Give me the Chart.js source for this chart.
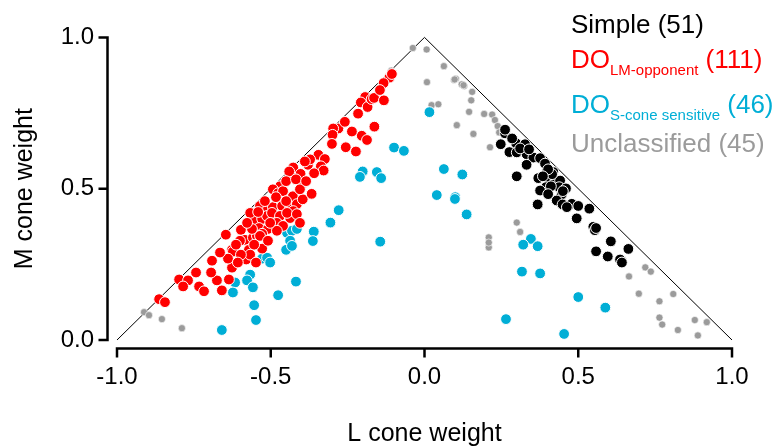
<!DOCTYPE html>
<html><head><meta charset="utf-8">
<script src="https://cdn.jsdelivr.net/npm/chart.js@4/dist/chart.umd.min.js"></script>
<style>html,body{margin:0;padding:0;background:#fff;}</style>
</head><body>
<canvas id="c" width="776" height="447"></canvas>
<script>
// ---- data (L cone weight, M cone weight) ----
const simpleL = [0.262,0.248,0.298,0.327,0.276,0.300,0.332,0.354,0.376,0.392,0.332,0.397,0.419,0.300,0.370,0.408,0.424,0.441,0.395,0.376,0.438,0.460,0.446,0.430,0.449,0.368,0.479,0.500,0.536,0.495,0.549,0.554,0.606,0.663,0.558,0.596,0.641,0.636,0.285,0.311,0.340,0.415,0.402,0.385,0.411,0.450,0.402,0.262,0.558,0.642,0.463];
const simpleM = [0.683,0.647,0.650,0.647,0.621,0.620,0.614,0.603,0.601,0.583,0.579,0.555,0.555,0.541,0.535,0.528,0.519,0.527,0.505,0.494,0.505,0.501,0.481,0.461,0.448,0.448,0.450,0.443,0.434,0.402,0.374,0.363,0.326,0.301,0.293,0.276,0.262,0.266,0.666,0.633,0.630,0.548,0.564,0.541,0.508,0.492,0.482,0.695,0.370,0.256,0.439];

const lmL = [-0.470,-0.493,-0.476,-0.460,-0.428,-0.535,-0.509,-0.493,-0.463,-0.437,-0.415,-0.554,-0.528,-0.512,-0.496,-0.470,-0.437,-0.480,-0.460,-0.538,-0.509,-0.480,-0.528,-0.646,-0.597,-0.584,-0.558,-0.545,-0.535,-0.626,-0.623,-0.571,-0.528,-0.580,-0.691,-0.626,-0.798,-0.769,-0.785,-0.733,-0.717,-0.675,-0.636,-0.863,-0.844,
 -0.114,-0.133,-0.193,-0.207,-0.185,-0.172,-0.164,-0.132,-0.163,-0.280,-0.297,-0.299,-0.301,-0.204,-0.187,-0.256,-0.345,-0.324,-0.337,-0.328,-0.379,-0.427,-0.432,-0.403,-0.398,-0.440,
 -0.396,-0.367,-0.427,
 -0.450,-0.418,-0.483,-0.450,-0.519,-0.567,-0.541,-0.447,-0.415,-0.405,-0.502,-0.561,-0.577,-0.600,-0.613,-0.554,-0.509,-0.567,-0.597,-0.548,-0.639,-0.665,-0.607,-0.694,-0.743,-0.659,-0.405,-0.385,-0.359,-0.372,-0.389,-0.259,-0.236,-0.216,-0.145,-0.106,-0.223];
const lmM = [0.508,0.498,0.485,0.492,0.475,0.443,0.433,0.439,0.443,0.436,0.449,0.393,0.400,0.410,0.420,0.410,0.403,0.387,0.377,0.370,0.367,0.361,0.351,0.348,0.364,0.331,0.338,0.344,0.344,0.298,0.292,0.298,0.302,0.266,0.262,0.239,0.200,0.197,0.177,0.177,0.161,0.197,0.200,0.135,0.125,
 0.867,0.849,0.803,0.785,0.770,0.796,0.800,0.792,0.705,0.699,0.699,0.678,0.648,0.675,0.661,0.637,0.612,0.598,0.574,0.560,0.579,0.570,0.539,0.549,0.516,0.557,
 0.465,0.483,0.426,
 0.525,0.531,0.472,0.459,0.459,0.420,0.423,0.420,0.416,0.387,0.387,0.367,0.387,0.328,0.315,0.315,0.328,0.282,0.282,0.256,0.269,0.289,0.256,0.223,0.223,0.164,0.498,0.525,0.551,0.597,0.590,0.721,0.689,0.748,0.826,0.879,0.623];

const sL = [-0.447,-0.431,-0.415,-0.437,-0.450,-0.528,-0.512,-0.502,-0.567,-0.577,-0.616,-0.558,-0.623,-0.476,-0.418,-0.554,-0.548,-0.659,0.016,-0.099,-0.067,-0.201,-0.210,-0.155,-0.141,0.063,0.123,0.040,0.100,0.137,-0.279,-0.306,-0.360,-0.363,-0.144,0.346,0.321,0.368,0.500,0.588,0.454,0.317,0.376,0.265,-0.431,0.099];
const sM = [0.354,0.361,0.367,0.328,0.298,0.269,0.272,0.256,0.216,0.197,0.190,0.174,0.157,0.148,0.193,0.115,0.066,0.033,0.753,0.636,0.625,0.557,0.539,0.555,0.535,0.565,0.547,0.479,0.472,0.415,0.429,0.388,0.358,0.327,0.325,0.334,0.315,0.310,0.142,0.107,0.020,0.226,0.220,0.069,0.311,0.466];

const unL = [-0.912,-0.896,-0.854,-0.789,-0.038,0.007,-0.108,0.063,0.008,0.102,0.096,0.121,0.129,0.155,0.152,0.145,0.023,0.045,0.105,0.159,0.194,0.220,0.229,0.238,0.243,0.213,0.300,0.311,0.209,0.209,0.718,0.736,0.665,0.697,0.809,0.764,0.764,0.773,0.824,0.879,0.918,0.889,0.098,0.127,0.209];
const unM = [0.092,0.082,0.069,0.039,0.965,0.960,0.890,0.905,0.852,0.863,0.859,0.845,0.839,0.820,0.792,0.754,0.776,0.779,0.710,0.681,0.747,0.745,0.727,0.707,0.686,0.637,0.388,0.357,0.339,0.306,0.240,0.226,0.210,0.153,0.152,0.128,0.074,0.051,0.033,0.066,0.059,0.015,0.861,0.842,0.322];

const triL = [-1, 0, 1];
const triM = [0, 1, 0];

const tickValues = [0, 0.5, 1];
const xTickValues = [-1, -0.5, 0, 0.5, 1];

const legendNames = ['Simple', 'DO', 'DO', 'Unclassified'];
const legendSubs = ['', 'LM-opponent', 'S-cone sensitive', ''];
const legendCounts = [51, 111, 46, 45];
const legendColors = ['#000000', '#ff0000', '#00aed6', '#9b9b9b'];

const zip = (a, b) => a.map((v, i) => ({x: v, y: b[i]}));

const FONT = "'Liberation Sans', Arial, Helvetica, sans-serif";

const axesPlugin = {
  id: 'offsetAxes',
  afterDraw(chart) {
    const {ctx, scales: {x, y}} = chart;
    ctx.save();
    ctx.strokeStyle = '#000';
    ctx.lineWidth = 2.5;
    ctx.lineCap = 'butt';
    const ax = x.getPixelForValue(-1) - 9.5;
    const y0 = y.getPixelForValue(0), y1 = y.getPixelForValue(1);
    ctx.beginPath();
    ctx.moveTo(ax, y0 + 1.25); ctx.lineTo(ax, y1 - 1.25);
    y.ticks.forEach(t => { const py = y.getPixelForValue(t.value); ctx.moveTo(ax + 1.25, py); ctx.lineTo(ax - 9, py); });
    ctx.stroke();
    const ay = y0 + 8.5;
    const x0 = x.getPixelForValue(-1), x1 = x.getPixelForValue(1);
    ctx.beginPath();
    ctx.moveTo(x0 - 1.25, ay); ctx.lineTo(x1 + 1.25, ay);
    x.ticks.forEach(t => { const px = x.getPixelForValue(t.value); ctx.moveTo(px, ay - 1.25); ctx.lineTo(px, ay + 9); });
    ctx.stroke();
    ctx.restore();
  }
};

const legendPlugin = {
  id: 'subLegend',
  afterDraw(chart) {
    const ctx = chart.ctx;
    const left = 571;
    const baselines = [33, 68, 113, 152];
    ctx.save();
    ctx.textBaseline = 'alphabetic';
    ctx.textAlign = 'left';
    legendNames.forEach((name, i) => {
      ctx.fillStyle = legendColors[i];
      ctx.font = '26px ' + FONT;
      let xx = left;
      ctx.fillText(name, xx, baselines[i]);
      xx += ctx.measureText(name).width;
      if (legendSubs[i]) {
        ctx.font = '15px ' + FONT;
        ctx.fillText(legendSubs[i], xx, baselines[i] + 7);
        xx += ctx.measureText(legendSubs[i]).width;
        ctx.font = '26px ' + FONT;
      }
      ctx.fillText(' (' + legendCounts[i] + ')', xx, baselines[i]);
    });
    ctx.restore();
  }
};

const ptBase = {showLine: false, clip: false, borderColor: '#ffffff'};

new Chart(document.getElementById('c'), {
  type: 'scatter',
  data: {
    datasets: [
      {...ptBase, label: 'Simple', data: zip(simpleL, simpleM), backgroundColor: '#000000', pointRadius: 5.4, borderWidth: 1},
      {...ptBase, label: 'DO LM', data: zip(lmL, lmM), backgroundColor: '#ff0000', pointRadius: 5.4, borderWidth: 1},
      {...ptBase, label: 'DO S', data: zip(sL, sM), backgroundColor: '#00aed6', pointRadius: 5.4, borderWidth: 1},
      {...ptBase, label: 'Unclassified', data: zip(unL, unM), backgroundColor: '#9b9b9b', pointRadius: 3.6, borderWidth: 0.6},
      {label: 'triangle', data: zip(triL, triM), showLine: true, borderColor: '#000', borderWidth: 1, pointRadius: 0, fill: false, clip: false}
    ]
  },
  options: {
    responsive: false,
    devicePixelRatio: 1,
    animation: false,
    events: [],
    layout: {padding: {left: 0, right: 44, top: 35, bottom: 0}},
    plugins: {legend: {display: false}, tooltip: {enabled: false}},
    scales: {
      x: {
        type: 'linear', min: -1, max: 1,
        afterBuildTicks: s => { s.ticks = xTickValues.map(v => ({value: v})); },
        afterFit: s => { s.height = 107; },
        grid: {display: false, drawTicks: false},
        border: {display: false},
        ticks: {padding: 23, color: '#000', font: {family: FONT, size: 24}, callback: v => Number(v).toFixed(1), maxRotation: 0},
        title: {display: true, text: 'L cone weight', color: '#000', font: {family: FONT, size: 25}, padding: {top: 0, bottom: -2}}
      },
      y: {
        type: 'linear', min: 0, max: 1,
        afterBuildTicks: s => { s.ticks = tickValues.map(v => ({value: v})); },
        afterFit: s => { s.width = 117; },
        grid: {display: false, drawTicks: false},
        border: {display: false},
        ticks: {padding: 23, color: '#000', font: {family: FONT, size: 24}, callback: v => Number(v).toFixed(1)},
        title: {display: true, text: 'M cone weight', color: '#000', font: {family: FONT, size: 25}, padding: {top: 10, bottom: 0}}
      }
    }
  },
  plugins: [axesPlugin, legendPlugin]
});
</script>
</body></html>
